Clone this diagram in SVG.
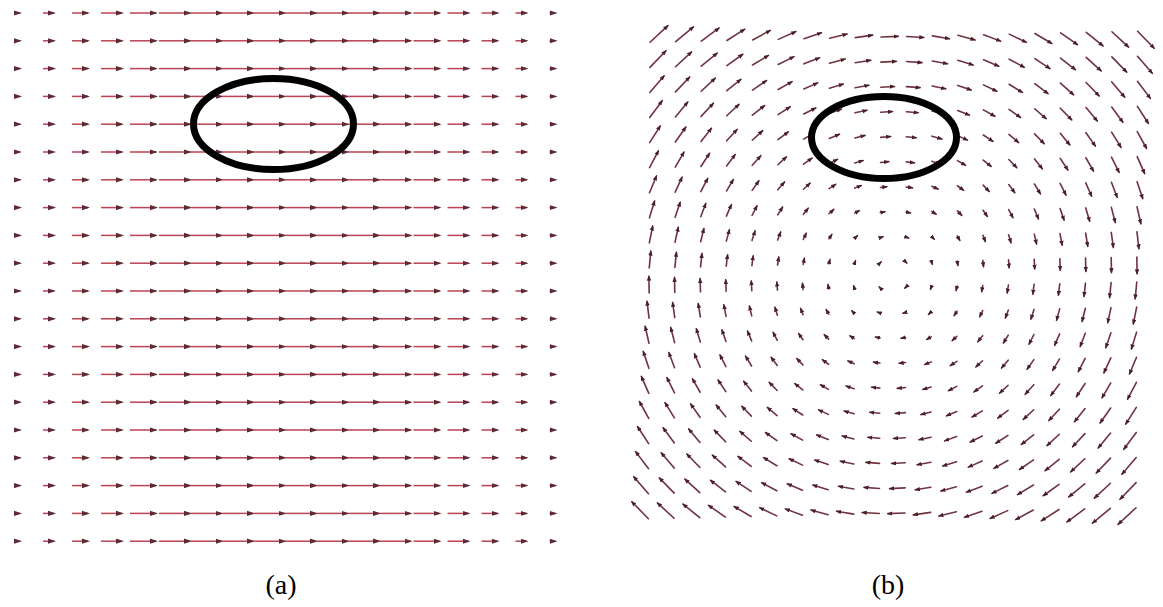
<svg xmlns="http://www.w3.org/2000/svg" xmlns:xlink="http://www.w3.org/1999/xlink" width="1163" height="607" viewBox="0 0 1163 607">
<style>
.la{stroke:#bb4252;stroke-width:1.5;fill:none;marker-end:url(#ha)}
.lb{stroke:#70343f;stroke-width:1.6;fill:none;stroke-linecap:round;marker-end:url(#hb)}
.ring{fill:none;stroke:#000;stroke-width:7}
.lbl{font-family:"Liberation Serif","DejaVu Serif",serif;font-size:28px;fill:#000;text-anchor:middle}
</style>
<defs>
<marker id="ha" markerUnits="userSpaceOnUse" markerWidth="8" markerHeight="6" refX="6" refY="3" orient="auto"><path d="M0,0.4 L8,3 L0,5.6 z" fill="#5e2a33"/></marker>
<marker id="hb" markerUnits="userSpaceOnUse" markerWidth="6" markerHeight="5" refX="4.5" refY="2.2" orient="auto"><path d="M0,0 L5.5,2.2 L0,4.4 z" fill="#4a2028"/></marker>
<g id="ra">
<line class="la" x1="14" y1="0" x2="20" y2="0"/>
<line class="la" x1="43" y1="0" x2="54" y2="0"/>
<line class="la" x1="72" y1="0" x2="88" y2="0"/>
<line class="la" x1="101" y1="0" x2="122" y2="0"/>
<line class="la" x1="130" y1="0" x2="156" y2="0"/>
<line class="la" x1="159" y1="0" x2="190" y2="0"/>
<line class="la" x1="190.5" y1="0" x2="221.5" y2="0"/>
<line class="la" x1="222" y1="0" x2="253" y2="0"/>
<line class="la" x1="253.5" y1="0" x2="284.5" y2="0"/>
<line class="la" x1="285" y1="0" x2="316" y2="0"/>
<line class="la" x1="316.5" y1="0" x2="347.5" y2="0"/>
<line class="la" x1="348" y1="0" x2="379" y2="0"/>
<line class="la" x1="379.5" y1="0" x2="410.5" y2="0"/>
<line class="la" x1="413.5" y1="0" x2="439.5" y2="0"/>
<line class="la" x1="447.5" y1="0" x2="468.5" y2="0"/>
<line class="la" x1="481.5" y1="0" x2="497.5" y2="0"/>
<line class="la" x1="515.5" y1="0" x2="526.5" y2="0"/>
<line class="la" x1="549.5" y1="0" x2="555.5" y2="0"/>
</g>
<g id="qb">
<line class="lb" x1="-13.15" y1="-12.25" x2="-12.25" y2="-13.15"/>
<line class="lb" x1="-14.05" y1="-37.65" x2="-11.35" y2="-38.55"/>
<line class="lb" x1="-14.95" y1="-63.05" x2="-10.45" y2="-63.95"/>
<line class="lb" x1="-15.85" y1="-88.45" x2="-9.55" y2="-89.35"/>
<line class="lb" x1="-16.75" y1="-113.85" x2="-8.65" y2="-114.75"/>
<line class="lb" x1="-17.65" y1="-139.25" x2="-7.75" y2="-140.15"/>
<line class="lb" x1="-18.55" y1="-164.65" x2="-6.85" y2="-165.55"/>
<line class="lb" x1="-19.45" y1="-190.05" x2="-5.95" y2="-190.95"/>
<line class="lb" x1="-20.35" y1="-215.45" x2="-5.05" y2="-216.35"/>
<line class="lb" x1="-21.25" y1="-240.85" x2="-4.15" y2="-241.75"/>
<line class="lb" x1="-38.55" y1="-11.35" x2="-37.65" y2="-14.05"/>
<line class="lb" x1="-39.45" y1="-36.75" x2="-36.75" y2="-39.45"/>
<line class="lb" x1="-40.35" y1="-62.15" x2="-35.85" y2="-64.85"/>
<line class="lb" x1="-41.25" y1="-87.55" x2="-34.95" y2="-90.25"/>
<line class="lb" x1="-42.15" y1="-112.95" x2="-34.05" y2="-115.65"/>
<line class="lb" x1="-43.05" y1="-138.35" x2="-33.15" y2="-141.05"/>
<line class="lb" x1="-43.95" y1="-163.75" x2="-32.25" y2="-166.45"/>
<line class="lb" x1="-44.85" y1="-189.15" x2="-31.35" y2="-191.85"/>
<line class="lb" x1="-45.75" y1="-214.55" x2="-30.45" y2="-217.25"/>
<line class="lb" x1="-46.65" y1="-239.95" x2="-29.55" y2="-242.65"/>
<line class="lb" x1="-63.95" y1="-10.45" x2="-63.05" y2="-14.95"/>
<line class="lb" x1="-64.85" y1="-35.85" x2="-62.15" y2="-40.35"/>
<line class="lb" x1="-65.75" y1="-61.25" x2="-61.25" y2="-65.75"/>
<line class="lb" x1="-66.65" y1="-86.65" x2="-60.35" y2="-91.15"/>
<line class="lb" x1="-67.55" y1="-112.05" x2="-59.45" y2="-116.55"/>
<line class="lb" x1="-68.45" y1="-137.45" x2="-58.55" y2="-141.95"/>
<line class="lb" x1="-69.35" y1="-162.85" x2="-57.65" y2="-167.35"/>
<line class="lb" x1="-70.25" y1="-188.25" x2="-56.75" y2="-192.75"/>
<line class="lb" x1="-71.15" y1="-213.65" x2="-55.85" y2="-218.15"/>
<line class="lb" x1="-72.05" y1="-239.05" x2="-54.95" y2="-243.55"/>
<line class="lb" x1="-89.35" y1="-9.55" x2="-88.45" y2="-15.85"/>
<line class="lb" x1="-90.25" y1="-34.95" x2="-87.55" y2="-41.25"/>
<line class="lb" x1="-91.15" y1="-60.35" x2="-86.65" y2="-66.65"/>
<line class="lb" x1="-92.05" y1="-85.75" x2="-85.75" y2="-92.05"/>
<line class="lb" x1="-92.95" y1="-111.15" x2="-84.85" y2="-117.45"/>
<line class="lb" x1="-93.85" y1="-136.55" x2="-83.95" y2="-142.85"/>
<line class="lb" x1="-94.75" y1="-161.95" x2="-83.05" y2="-168.25"/>
<line class="lb" x1="-95.65" y1="-187.35" x2="-82.15" y2="-193.65"/>
<line class="lb" x1="-96.55" y1="-212.75" x2="-81.25" y2="-219.05"/>
<line class="lb" x1="-97.45" y1="-238.15" x2="-80.35" y2="-244.45"/>
<line class="lb" x1="-114.75" y1="-8.65" x2="-113.85" y2="-16.75"/>
<line class="lb" x1="-115.65" y1="-34.05" x2="-112.95" y2="-42.15"/>
<line class="lb" x1="-116.55" y1="-59.45" x2="-112.05" y2="-67.55"/>
<line class="lb" x1="-117.45" y1="-84.85" x2="-111.15" y2="-92.95"/>
<line class="lb" x1="-118.35" y1="-110.25" x2="-110.25" y2="-118.35"/>
<line class="lb" x1="-119.25" y1="-135.65" x2="-109.35" y2="-143.75"/>
<line class="lb" x1="-120.15" y1="-161.05" x2="-108.45" y2="-169.15"/>
<line class="lb" x1="-121.05" y1="-186.45" x2="-107.55" y2="-194.55"/>
<line class="lb" x1="-121.95" y1="-211.85" x2="-106.65" y2="-219.95"/>
<line class="lb" x1="-122.85" y1="-237.25" x2="-105.75" y2="-245.35"/>
<line class="lb" x1="-140.15" y1="-7.75" x2="-139.25" y2="-17.65"/>
<line class="lb" x1="-141.05" y1="-33.15" x2="-138.35" y2="-43.05"/>
<line class="lb" x1="-141.95" y1="-58.55" x2="-137.45" y2="-68.45"/>
<line class="lb" x1="-142.85" y1="-83.95" x2="-136.55" y2="-93.85"/>
<line class="lb" x1="-143.75" y1="-109.35" x2="-135.65" y2="-119.25"/>
<line class="lb" x1="-144.65" y1="-134.75" x2="-134.75" y2="-144.65"/>
<line class="lb" x1="-145.55" y1="-160.15" x2="-133.85" y2="-170.05"/>
<line class="lb" x1="-146.45" y1="-185.55" x2="-132.95" y2="-195.45"/>
<line class="lb" x1="-147.35" y1="-210.95" x2="-132.05" y2="-220.85"/>
<line class="lb" x1="-148.25" y1="-236.35" x2="-131.15" y2="-246.25"/>
<line class="lb" x1="-165.55" y1="-6.85" x2="-164.65" y2="-18.55"/>
<line class="lb" x1="-166.45" y1="-32.25" x2="-163.75" y2="-43.95"/>
<line class="lb" x1="-167.35" y1="-57.65" x2="-162.85" y2="-69.35"/>
<line class="lb" x1="-168.25" y1="-83.05" x2="-161.95" y2="-94.75"/>
<line class="lb" x1="-169.15" y1="-108.45" x2="-161.05" y2="-120.15"/>
<line class="lb" x1="-170.05" y1="-133.85" x2="-160.15" y2="-145.55"/>
<line class="lb" x1="-170.95" y1="-159.25" x2="-159.25" y2="-170.95"/>
<line class="lb" x1="-171.85" y1="-184.65" x2="-158.35" y2="-196.35"/>
<line class="lb" x1="-172.75" y1="-210.05" x2="-157.45" y2="-221.75"/>
<line class="lb" x1="-173.65" y1="-235.45" x2="-156.55" y2="-247.15"/>
<line class="lb" x1="-190.95" y1="-5.95" x2="-190.05" y2="-19.45"/>
<line class="lb" x1="-191.85" y1="-31.35" x2="-189.15" y2="-44.85"/>
<line class="lb" x1="-192.75" y1="-56.75" x2="-188.25" y2="-70.25"/>
<line class="lb" x1="-193.65" y1="-82.15" x2="-187.35" y2="-95.65"/>
<line class="lb" x1="-194.55" y1="-107.55" x2="-186.45" y2="-121.05"/>
<line class="lb" x1="-195.45" y1="-132.95" x2="-185.55" y2="-146.45"/>
<line class="lb" x1="-196.35" y1="-158.35" x2="-184.65" y2="-171.85"/>
<line class="lb" x1="-197.25" y1="-183.75" x2="-183.75" y2="-197.25"/>
<line class="lb" x1="-198.15" y1="-209.15" x2="-182.85" y2="-222.65"/>
<line class="lb" x1="-199.05" y1="-234.55" x2="-181.95" y2="-248.05"/>
<line class="lb" x1="-216.35" y1="-5.05" x2="-215.45" y2="-20.35"/>
<line class="lb" x1="-217.25" y1="-30.45" x2="-214.55" y2="-45.75"/>
<line class="lb" x1="-218.15" y1="-55.85" x2="-213.65" y2="-71.15"/>
<line class="lb" x1="-219.05" y1="-81.25" x2="-212.75" y2="-96.55"/>
<line class="lb" x1="-219.95" y1="-106.65" x2="-211.85" y2="-121.95"/>
<line class="lb" x1="-220.85" y1="-132.05" x2="-210.95" y2="-147.35"/>
<line class="lb" x1="-221.75" y1="-157.45" x2="-210.05" y2="-172.75"/>
<line class="lb" x1="-222.65" y1="-182.85" x2="-209.15" y2="-198.15"/>
<line class="lb" x1="-223.55" y1="-208.25" x2="-208.25" y2="-223.55"/>
<line class="lb" x1="-224.45" y1="-233.65" x2="-207.35" y2="-248.95"/>
<line class="lb" x1="-241.75" y1="-4.15" x2="-240.85" y2="-21.25"/>
<line class="lb" x1="-242.65" y1="-29.55" x2="-239.95" y2="-46.65"/>
<line class="lb" x1="-243.55" y1="-54.95" x2="-239.05" y2="-72.05"/>
<line class="lb" x1="-244.45" y1="-80.35" x2="-238.15" y2="-97.45"/>
<line class="lb" x1="-245.35" y1="-105.75" x2="-237.25" y2="-122.85"/>
<line class="lb" x1="-246.25" y1="-131.15" x2="-236.35" y2="-148.25"/>
<line class="lb" x1="-247.15" y1="-156.55" x2="-235.45" y2="-173.75"/>
<line class="lb" x1="-248.05" y1="-181.95" x2="-234.55" y2="-199.05"/>
<line class="lb" x1="-248.95" y1="-207.35" x2="-233.65" y2="-224.45"/>
<line class="lb" x1="-249.85" y1="-232.75" x2="-232.75" y2="-249.85"/>
</g>
</defs>
<rect width="1163" height="607" fill="#ffffff"/>
<g id="panel-a">
<use xlink:href="#ra" href="#ra" y="13"/>
<use xlink:href="#ra" href="#ra" y="40.8"/>
<use xlink:href="#ra" href="#ra" y="68.6"/>
<use xlink:href="#ra" href="#ra" y="96.4"/>
<use xlink:href="#ra" href="#ra" y="124.2"/>
<use xlink:href="#ra" href="#ra" y="152"/>
<use xlink:href="#ra" href="#ra" y="179.8"/>
<use xlink:href="#ra" href="#ra" y="207.6"/>
<use xlink:href="#ra" href="#ra" y="235.4"/>
<use xlink:href="#ra" href="#ra" y="263.2"/>
<use xlink:href="#ra" href="#ra" y="291"/>
<use xlink:href="#ra" href="#ra" y="318.8"/>
<use xlink:href="#ra" href="#ra" y="346.6"/>
<use xlink:href="#ra" href="#ra" y="374.4"/>
<use xlink:href="#ra" href="#ra" y="402.2"/>
<use xlink:href="#ra" href="#ra" y="430"/>
<use xlink:href="#ra" href="#ra" y="457.8"/>
<use xlink:href="#ra" href="#ra" y="485.6"/>
<use xlink:href="#ra" href="#ra" y="513.4"/>
<use xlink:href="#ra" href="#ra" y="541.2"/>
</g>
<g id="panel-b" transform="matrix(1.009 0.012 -0.039 0.987 893 275)">
<use xlink:href="#qb" href="#qb"/>
<use xlink:href="#qb" href="#qb" transform="rotate(90)"/>
<use xlink:href="#qb" href="#qb" transform="rotate(180)"/>
<use xlink:href="#qb" href="#qb" transform="rotate(270)"/>
</g>
<g id="highlights">
<ellipse class="ring" cx="273.5" cy="124" rx="80" ry="45.5"/>
<ellipse class="ring" cx="884" cy="137.5" rx="72.5" ry="41"/>
</g>
<g id="labels">
<text class="lbl" x="281" y="594">(a)</text>
<text class="lbl" x="888" y="594">(b)</text>
</g>
</svg>
